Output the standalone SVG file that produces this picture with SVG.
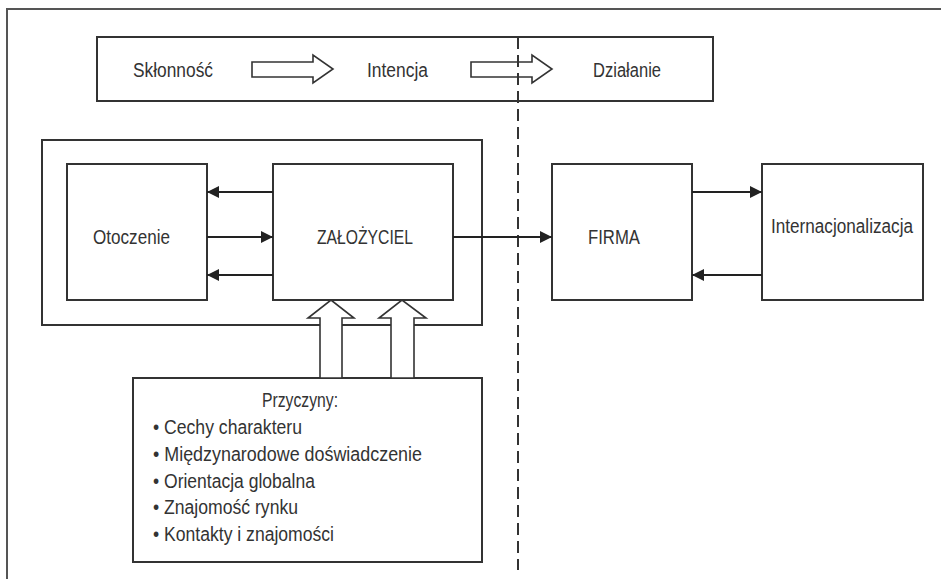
<svg xmlns="http://www.w3.org/2000/svg" width="941" height="579" viewBox="0 0 941 579">
<defs>
<style>
.box{fill:#fff;stroke:#333;stroke-width:2}
.frame{fill:none;stroke:#555;stroke-width:2}
.hollow{fill:#fff;stroke:#333;stroke-width:1.6;stroke-linejoin:miter}
.con{fill:none;stroke:#222;stroke-width:2}
.dash{fill:none;stroke:#333;stroke-width:2;stroke-dasharray:12 6}
text{font-family:"Liberation Sans Narrow","Liberation Sans",Arial,sans-serif;font-size:20px;fill:#333}
</style>
<marker id="ah" markerUnits="userSpaceOnUse" markerWidth="13" markerHeight="12" refX="12" refY="6" orient="auto">
<path d="M0,0 L12,6 L0,12 Z" fill="#222"/>
</marker>
</defs>
<rect width="941" height="579" fill="#fff"/>
<path class="frame" d="M7,579 V9 H941"/>

<g id="stages">
<rect class="box" x="97" y="37" width="616" height="64"/>
<text x="133" y="77" textLength="80" lengthAdjust="spacingAndGlyphs">Skłonność</text>
<text x="367" y="77" textLength="61" lengthAdjust="spacingAndGlyphs">Intencja</text>
<text x="593" y="77" textLength="68" lengthAdjust="spacingAndGlyphs">Działanie</text>
<path class="hollow" d="M252,62 H313 V55 L333,69 L313,83 V77 H252 Z"/>
<path class="hollow" d="M471,62 H532 V55 L552,69 L532,83 V77 H471 Z"/>
</g>

<g id="founder-context">
<rect class="box" x="42" y="140" width="440" height="185"/>
</g>

<g id="otoczenie">
<rect class="box" x="67" y="164" width="140" height="136"/>
<text x="93" y="244" textLength="77" lengthAdjust="spacingAndGlyphs">Otoczenie</text>
</g>

<g id="zalozyciel">
<rect class="box" x="273" y="164" width="180" height="136"/>
<text x="317" y="244" textLength="96" lengthAdjust="spacingAndGlyphs">ZAŁOŻYCIEL</text>
</g>

<g id="firma">
<rect class="box" x="552" y="164" width="140" height="136"/>
<text x="588" y="244" textLength="52" lengthAdjust="spacingAndGlyphs">FIRMA</text>
</g>

<g id="internacjonalizacja">
<rect class="box" x="762" y="164" width="161" height="136"/>
<text x="771" y="233" textLength="142" lengthAdjust="spacingAndGlyphs">Internacjonalizacja</text>
</g>

<g id="przyczyny">
<rect class="box" x="133" y="378" width="349" height="184"/>
<text x="262" y="407" textLength="76" lengthAdjust="spacingAndGlyphs">Przyczyny:</text>
<text x="153" y="434" textLength="149" lengthAdjust="spacingAndGlyphs">• Cechy charakteru</text>
<text x="153" y="461" textLength="269" lengthAdjust="spacingAndGlyphs">• Międzynarodowe doświadczenie</text>
<text x="153" y="488" textLength="162" lengthAdjust="spacingAndGlyphs">• Orientacja globalna</text>
<text x="153" y="514" textLength="145" lengthAdjust="spacingAndGlyphs">• Znajomość rynku</text>
<text x="153" y="541" textLength="181" lengthAdjust="spacingAndGlyphs">• Kontakty i znajomości</text>
</g>

<g id="connectors">
<path class="dash" d="M518,37 V570"/>
<line class="con" x1="273" y1="192" x2="207" y2="192" marker-end="url(#ah)"/>
<line class="con" x1="207" y1="237" x2="273" y2="237" marker-end="url(#ah)"/>
<line class="con" x1="273" y1="275" x2="207" y2="275" marker-end="url(#ah)"/>
<line class="con" x1="453" y1="237" x2="552" y2="237" marker-end="url(#ah)"/>
<line class="con" x1="692" y1="192" x2="762" y2="192" marker-end="url(#ah)"/>
<line class="con" x1="762" y1="275" x2="692" y2="275" marker-end="url(#ah)"/>
<path class="hollow" d="M320,378 V318 H308 L331,300 L354,318 H342 V378 Z"/>
<path class="hollow" d="M391,378 V318 H379 L402,300 L426,318 H414 V378 Z"/>
</g>
</svg>
